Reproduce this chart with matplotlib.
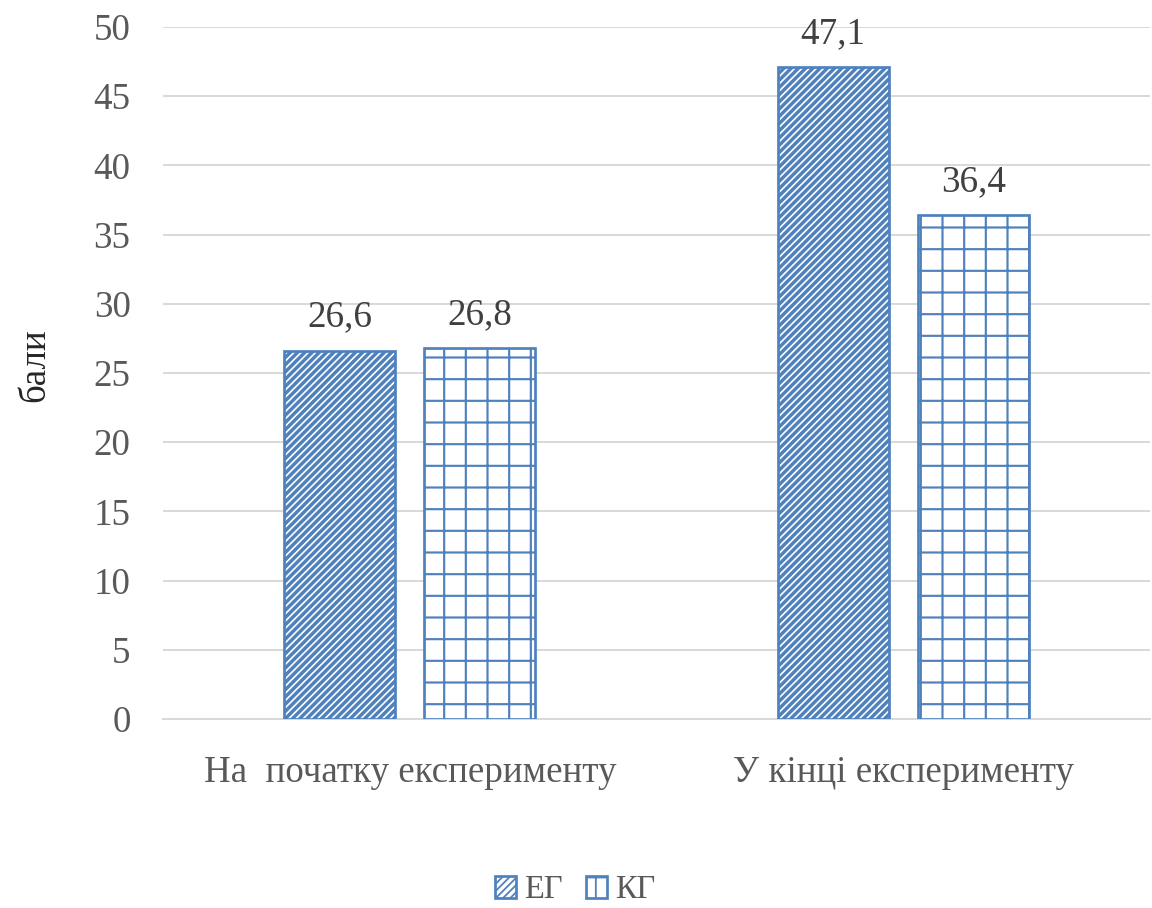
import matplotlib
matplotlib.use("Agg")
import matplotlib.pyplot as plt
import numpy as np

categories = ["На  початку експерименту", "У кінці експерименту"]
series_names = ["ЕГ", "КГ"]
eg_values = [26.6, 47.1]
kg_values = [26.8, 36.4]
y_ticks = [0, 5, 10, 15, 20, 25, 30, 35, 40, 45, 50]

DPI = 130
plt.rcParams["font.family"] = ["Liberation Serif", "DejaVu Serif"]
plt.rcParams["hatch.color"] = "#4F81BD"

fig = plt.figure(figsize=(1152 / DPI, 908 / DPI), dpi=DPI)
ax = fig.add_axes([163 / 1152, 1 - 719 / 908, (1150 - 163) / 1152, (719 - 27) / 908])

x = np.arange(len(categories))
width = 0.225
offset = 0.142
blue = "#4F81BD"

eg_bars = ax.bar(x - offset, eg_values, width, facecolor="white", edgecolor=blue,
                 hatch="//////", linewidth=1.5, label=series_names[0], zorder=3)
kg_bars = ax.bar(x + offset, kg_values, width, facecolor="white", edgecolor=blue,
                 hatch="+", linewidth=1.5, label=series_names[1], zorder=3)

for b in eg_bars:
    if hasattr(b, "set_hatch_linewidth"):
        b.set_hatch_linewidth(1.9)
for b in kg_bars:
    if hasattr(b, "set_hatch_linewidth"):
        b.set_hatch_linewidth(1.2)

for bars, vals in ((eg_bars, eg_values), (kg_bars, kg_values)):
    for b, v in zip(bars, vals):
        ax.annotate(f"{v:.1f}".replace(".", ","),
                    (b.get_x() + b.get_width() / 2, v),
                    xytext=(0, 9), textcoords="offset points",
                    ha="center", va="bottom", fontsize=20.5, color="#404040")

ax.set_xlim(-0.5, 1.5)
ax.set_ylim(0, 50)
ax.set_yticks(y_ticks)
ax.set_yticklabels([str(t) for t in y_ticks], fontsize=20.5, color="#595959")
ax.set_xticks(x)
ax.set_xticklabels(categories, fontsize=20.5, color="#595959")
ax.tick_params(axis="both", length=0)
ax.tick_params(axis="x", pad=20)
ax.tick_params(axis="y", pad=18)
ax.yaxis.grid(True, color="#D9D9D9", linewidth=1.1, zorder=0)
ax.set_axisbelow(True)
for side in ("top", "right", "left"):
    ax.spines[side].set_visible(False)
ax.spines["bottom"].set_color("#D9D9D9")
ax.spines["bottom"].set_linewidth(1.1)

fig.text(35 / 1152, 1 - 365 / 908, "бали", rotation=90, ha="center", va="center",
         fontsize=20.5, color="#262626")

fig.legend(loc="center", bbox_to_anchor=(575 / 1152, 1 - 890 / 908), ncol=2,
           frameon=False, fontsize=18, handlelength=0.65, handleheight=0.65,
           handletextpad=0.25, columnspacing=0.7, labelcolor="#595959")

fig.savefig("out.png", dpi=DPI)
